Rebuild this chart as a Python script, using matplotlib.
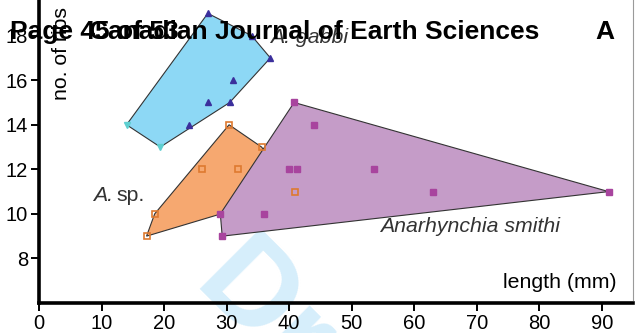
import matplotlib
matplotlib.use("Agg")
import matplotlib.pyplot as plt
from matplotlib.lines import Line2D
from matplotlib.patches import Polygon

# values (length in mm, number of ribs)
gabbi_x = [14.0, 19.4, 24.0, 27.0, 30.5, 31.0, 37.0, 27.0, 34.0]
gabbi_y = [14, 13, 14, 15, 15, 16, 17, 19, 18]
gabbi_alt = [True, True, False, False, False, False, False, False, False]

sp_x = [17.2, 18.5, 26.0, 31.8, 30.4, 35.6, 41.0]
sp_y = [9, 10, 12, 12, 14, 13, 11]

smithi_x = [29.0, 29.3, 36.0, 40.0, 41.3, 40.8, 44.0, 53.5, 63.0, 91.1]
smithi_y = [10, 9, 10, 12, 12, 15, 14, 12, 11, 11]

x_ticks = [0, 10, 20, 30, 40, 50, 60, 70, 80, 90]
y_ticks = [8, 10, 12, 14, 16, 18]

FONT = ["Liberation Sans", "DejaVu Sans"]


def hull(xs, ys):
    pts = sorted(set(zip(xs, ys)))

    def cross(o, a, b):
        return (a[0] - o[0]) * (b[1] - o[1]) - (a[1] - o[1]) * (b[0] - o[0])

    lower, upper = [], []
    for p in pts:
        while len(lower) >= 2 and cross(lower[-2], lower[-1], p) <= 0:
            lower.pop()
        lower.append(p)
    for p in reversed(pts):
        while len(upper) >= 2 and cross(upper[-2], upper[-1], p) <= 0:
            upper.pop()
        upper.append(p)
    return lower[:-1] + upper[:-1]


def main() -> None:
    plt.rcParams["font.family"] = FONT

    fig = plt.figure(figsize=(6.35, 3.33), dpi=100)

    # faint "Draft" watermark behind everything
    fig.text(190 / 635, 1 - 288 / 333, "Draft", fontsize=90,
             fontweight="bold", color="#d6eefb", rotation=-45,
             rotation_mode="anchor", ha="left", va="baseline", zorder=-1)

    ax = fig.add_axes([39 / 635, 1 - 303 / 333, 594 / 635, 303 / 333])
    ax.set_zorder(1)
    ax.patch.set_alpha(0)

    fills = [
        (gabbi_x, gabbi_y, "#8dd8f5"),
        (sp_x, sp_y, "#f6a870"),
        (smithi_x, smithi_y, "#c59cc8"),
    ]
    for xs, ys, c in fills:
        ax.add_patch(Polygon(hull(xs, ys), closed=True, facecolor=c,
                             edgecolor="#333333", linewidth=0.8, zorder=1))

    gx_main = [x for x, a in zip(gabbi_x, gabbi_alt) if not a]
    gy_main = [y for y, a in zip(gabbi_y, gabbi_alt) if not a]
    gx_alt = [x for x, a in zip(gabbi_x, gabbi_alt) if a]
    gy_alt = [y for y, a in zip(gabbi_y, gabbi_alt) if a]

    ax.plot(gx_main, gy_main, "^", color="#3b2f9c", markersize=4.5,
            linestyle="none", zorder=3)
    ax.plot(gx_alt, gy_alt, "v", color="#5ecfd0", markersize=4.5,
            linestyle="none", zorder=3)
    ax.plot(sp_x, sp_y, "s", markerfacecolor="none", markeredgecolor="#de7a30",
            markeredgewidth=1.2, markersize=5, linestyle="none", zorder=3)
    ax.plot(smithi_x, smithi_y, "s", color="#a8449e", markersize=5,
            linestyle="none", zorder=3)

    ax.set_xlim(0, 95)
    ax.set_ylim(6, 19.6)
    ax.set_xticks(x_ticks)
    ax.set_yticks(y_ticks)
    ax.tick_params(labelsize=14.5, width=1.4, length=6, direction="out",
                   pad=2)
    for side in ("top", "right"):
        ax.spines[side].set_visible(False)
    for side in ("left", "bottom"):
        ax.spines[side].set_linewidth(2.6)

    # labels
    ax.text(0.973, 0.05, "length (mm)", transform=ax.transAxes,
            fontsize=15.3, ha="right", va="baseline")
    ax.text(0.038, 0.67, "no. of ribs", transform=ax.transAxes,
            fontsize=15.3, rotation=90, ha="center", va="bottom")
    ax.text(54.6, 9.2, "Anarhynchia smithi", fontsize=15.3, style="italic",
            color="#333333")
    ax.text(8.6, 10.6, "A.", fontsize=15.3, style="italic", color="#333333")
    ax.text(12.4, 10.6, "sp.", fontsize=15.3, color="#333333")
    ax.text(37.0, 17.65, "A. gabbi", fontsize=15.3, style="italic",
            color="#333333")

    # page header overlapping the figure
    hy = 1 - 39 / 333
    fig.text(10 / 635, hy, "Page 45 of 53", fontsize=19, fontweight="bold",
             va="baseline", zorder=5)
    fig.text(89 / 635, hy, "Canadian Journal of Earth Sciences", fontsize=19,
             fontweight="bold", va="baseline", zorder=5)
    fig.text(595 / 635, hy, "A", fontsize=19, fontweight="bold",
             va="baseline", zorder=5)

    fig.add_artist(Line2D([633 / 635, 633 / 635], [1 - 300 / 333, 1],
                          color="#9a9a9a", linewidth=0.8))

    fig.savefig("out.png", dpi=100)


if __name__ == "__main__":
    main()
